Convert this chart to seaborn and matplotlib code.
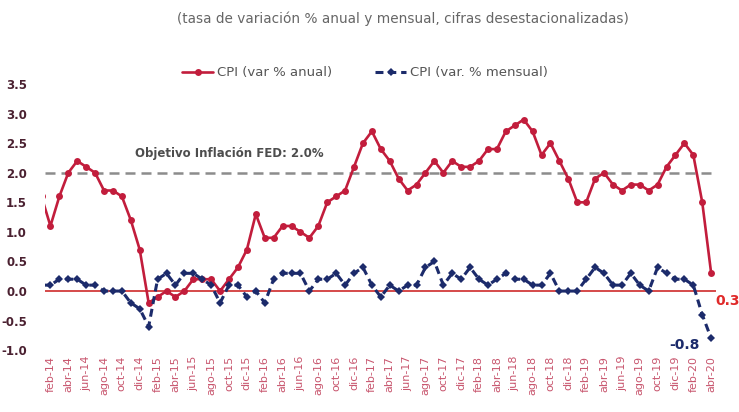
import matplotlib
matplotlib.use("Agg")
import matplotlib.pyplot as plt
import numpy as np
import pandas as pd
import seaborn as sns

# ---- data ----
mes_abbr = ["ene", "feb", "mar", "abr", "may", "jun", "jul", "ago", "sep", "oct", "nov", "dic"]
months = [f"{mes_abbr[m]}-{y:02d}" for y in range(14, 21) for m in range(12)]
months = months[0:months.index("abr-20") + 1]   # ene-14 .. abr-20

cpi_anual = [1.6,
             1.1, 1.6, 2.0, 2.2, 2.1, 2.0, 1.7, 1.7, 1.6, 1.2, 0.7,
             -0.2, -0.1, 0.0, -0.1, 0.0, 0.2, 0.2, 0.2, 0.0, 0.2, 0.4, 0.7,
             1.3, 0.9, 0.9, 1.1, 1.1, 1.0, 0.9, 1.1, 1.5, 1.6, 1.7, 2.1,
             2.5, 2.7, 2.4, 2.2, 1.9, 1.7, 1.8, 2.0, 2.2, 2.0, 2.2, 2.1,
             2.1, 2.2, 2.4, 2.4, 2.7, 2.8, 2.9, 2.7, 2.3, 2.5, 2.2, 1.9,
             1.5, 1.5, 1.9, 2.0, 1.8, 1.7, 1.8, 1.8, 1.7, 1.8, 2.1, 2.3,
             2.5, 2.3, 1.5, 0.3]

cpi_mensual = [0.1,
               0.1, 0.2, 0.2, 0.2, 0.1, 0.1, 0.0, 0.0, 0.0, -0.2, -0.3,
               -0.6, 0.2, 0.3, 0.1, 0.3, 0.3, 0.2, 0.1, -0.2, 0.1, 0.1, -0.1,
               0.0, -0.2, 0.2, 0.3, 0.3, 0.3, 0.0, 0.2, 0.2, 0.3, 0.1, 0.3,
               0.4, 0.1, -0.1, 0.1, 0.0, 0.1, 0.1, 0.4, 0.5, 0.1, 0.3, 0.2,
               0.4, 0.2, 0.1, 0.2, 0.3, 0.2, 0.2, 0.1, 0.1, 0.3, 0.0, 0.0,
               0.0, 0.2, 0.4, 0.3, 0.1, 0.1, 0.3, 0.1, 0.0, 0.4, 0.3, 0.2,
               0.2, 0.1, -0.4, -0.8]

tick_labels = months[1::2]
objetivo_fed = 2.0
title_text = "(tasa de variación % anual y mensual, cifras desestacionalizadas)"
legend_labels = ["CPI (var % anual)", "CPI (var. % mensual)"]

df = pd.DataFrame({"mes": months, "i": np.arange(len(months)),
                   "anual": cpi_anual, "mensual": cpi_mensual})

# ---- style ----
sns.set_style("white")
RED = "#c21d3c"
NAVY = "#1c2b6b"

fig = plt.figure(figsize=(7.39, 4.12), dpi=100)
ax = fig.add_axes([0.061, 0.150, 0.908, 0.646])

ax.axhline(0, color="#d23a3a", lw=1.3, zorder=1)
ax.axhline(objetivo_fed, color="#8c8c8c", lw=1.8, dashes=(4, 2.4), zorder=1)

sns.lineplot(data=df, x="i", y="anual", ax=ax, color=RED, lw=1.9,
             marker="o", markersize=5, markeredgewidth=0,
             label=legend_labels[0], zorder=3)
sns.lineplot(data=df, x="i", y="mensual", ax=ax, color=NAVY, lw=2.2,
             marker="D", markersize=3.8, markeredgewidth=0,
             dashes=False, linestyle=(0, (2.6, 1.6)),
             label=legend_labels[1], zorder=3)

ax.set_xlim(0.4, 75.55)
ax.set_ylim(-1.0, 3.5)
ax.set_yticks(np.arange(-1.0, 3.51, 0.5))
ax.set_yticklabels([f"{v:.1f}" for v in np.arange(-1.0, 3.51, 0.5)],
                   fontsize=8.5, fontweight="bold", color="#4a2030")
tick_pos = [months.index(t) for t in tick_labels]
ax.set_xticks(tick_pos)
ax.set_xticklabels(tick_labels, rotation=90, fontsize=8, color="#c8566e")
ax.tick_params(axis="y", length=0, pad=13)
ax.tick_params(axis="x", length=0, pad=4)
ax.set_xlabel("")
ax.set_ylabel("")
for s in ax.spines.values():
    s.set_visible(False)

ax.text(months.index("dic-14") - 0.5, 2.33, "Objetivo Inflación FED: 2.0%",
        fontsize=8.5, fontweight="bold", color="#4d4d4d", ha="left", va="center")

last = len(months) - 1
ax.annotate(f"{cpi_anual[-1]:.1f}", xy=(last, cpi_anual[-1]), xytext=(3, -20),
            textcoords="offset points", fontsize=10, fontweight="bold",
            color="#e02a2a", ha="left", va="center", annotation_clip=False)
ax.annotate(f"{cpi_mensual[-1]:.1f}", xy=(last, cpi_mensual[-1]), xytext=(-8, -5),
            textcoords="offset points", fontsize=10, fontweight="bold",
            color=NAVY, ha="right", va="center", annotation_clip=False)

ax.get_legend().remove()
handles, labels = ax.get_legend_handles_labels()
fig.legend(handles, labels, loc="center", bbox_to_anchor=(0.494, 0.823), ncol=2,
           frameon=False, fontsize=9.5, labelcolor="#555555", handlelength=2.4,
           columnspacing=3.2, handletextpad=0.3)

fig.text(0.545, 0.955, title_text, ha="center", va="center", fontsize=9.8, color="#666666")

fig.savefig("out.png", dpi=100)
